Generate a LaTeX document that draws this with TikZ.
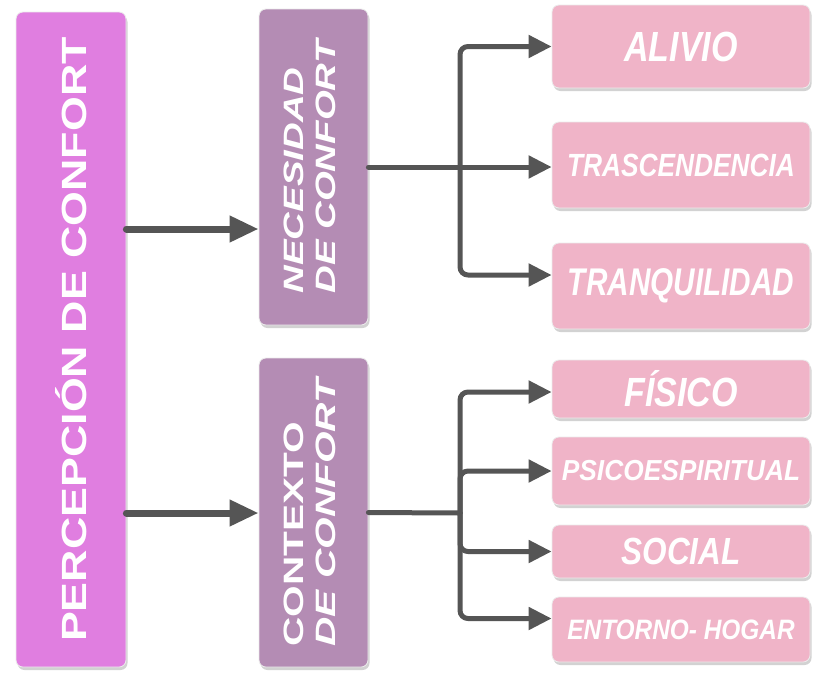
\documentclass[tikz,border=0pt]{standalone}
\usepackage{fontspec}
\setmainfont{Liberation Sans}
\usetikzlibrary{arrows.meta,shadows}

\definecolor{percepcol}{RGB}{224,126,224}
\definecolor{mauvecol}{RGB}{180,140,180}
\definecolor{pinkcol}{RGB}{240,180,200}
\definecolor{linecol}{RGB}{85,85,85}

\begin{document}
\begin{tikzpicture}[x=1pt, y=-1pt, line cap=round, line join=round,
  box/.style={rounded corners=7pt, draw=white!85!gray, line width=0.8pt,
    inner sep=0pt, text=white, font=\bfseries,
    drop shadow={shadow xshift=1.5pt, shadow yshift=-3pt, opacity=0.35}},
  mainbox/.style={box, fill=percepcol, minimum width=110pt, minimum height=655pt},
  midbox/.style={box, fill=mauvecol, minimum width=109pt},
  leafbox/.style={box, fill=pinkcol, minimum width=258pt},
  mainarrow/.style={draw=linecol, line width=7pt, -{Triangle[length=29pt,width=25pt]}},
  branch/.style={draw=linecol, line width=5pt, rounded corners=8pt},
  brancharrow/.style={branch, -{Triangle[length=23pt,width=22pt]}}]

% Frame
\useasboundingbox (0,0) rectangle (813,673);
\fill[white] (0,0) rectangle (813,673);

% Main box
\node[mainbox] (percep) at (71,339.5)
  {\fontsize{35}{40}\selectfont\rotatebox{90}{\scalebox{1.28}[1]{PERCEPCIÓN DE CONFORT}}};

% Middle boxes
\node[midbox, minimum height=316pt] (nec) at (313.5,167)
  {\fontsize{28}{32}\selectfont\rotatebox{90}{\scalebox{1.37}[1]{\itshape
   \begin{tabular}{@{}l@{}}NECESIDAD\\DE CONFORT\end{tabular}}}};
\node[midbox, minimum height=309pt] (ctx) at (313.5,512.5)
  {\fontsize{28}{32}\selectfont\rotatebox{90}{\scalebox{1.45}[1]{%
   \begin{tabular}{@{}l@{}}CONTEXTO\\\itshape DE CONFORT\end{tabular}}}};

% Leaf boxes, upper group
\node[leafbox, minimum height=83pt] (alivio) at (681,46.5)
  {\fontsize{34}{40}\selectfont\scalebox{1}[1.24]{\itshape ALIVIO}};
\node[leafbox, minimum height=86pt] (trans) at (681,165)
  {\fontsize{26.3}{30}\selectfont\scalebox{1}[1.22]{\itshape TRASCENDENCIA}};
\node[leafbox, minimum height=86pt] (tranq) at (681,286)
  {\fontsize{29.7}{34}\selectfont\scalebox{1}[1.3]{\itshape TRANQUILIDAD}};

% Leaf boxes, lower group
\node[leafbox, minimum height=58pt] (fisico) at (681,389)
  {\fontsize{34}{40}\selectfont\scalebox{1}[1.2]{\itshape FÍSICO}};
\node[leafbox, minimum height=68pt] (psico) at (681,471)
  {\fontsize{26.3}{30}\selectfont\scalebox{1}[1.1]{\itshape PSICOESPIRITUAL}};
\node[leafbox, minimum height=53pt] (social) at (681,551.5)
  {\fontsize{31.5}{36}\selectfont\scalebox{1}[1.2]{\itshape SOCIAL}};
\node[leafbox, minimum height=65pt] (entorno) at (681,629.5)
  {\fontsize{24.4}{28}\selectfont\scalebox{1}[1.15]{\itshape ENTORNO- HOGAR}};

% Arrows from the main box
\coordinate (ya) at (0,229);
\coordinate (yb) at (0,513);
\draw[mainarrow] (percep.east |- ya) -- (nec.west |- ya);
\draw[mainarrow] (percep.east |- yb) -- (ctx.west |- yb);

% Branches of the first middle box
\coordinate (jn) at (460,167);
\draw[branch] (nec.east) -- (jn);
\draw[brancharrow] (jn) |- (alivio.west);
\draw[brancharrow] (jn) -- (trans.west |- jn);
\draw[brancharrow] (jn) |- ([yshift=11pt]tranq.west);

% Branches of the second middle box
\coordinate (jc) at (460,513);
\draw[branch] (ctx.east) -- (jc);
\draw[brancharrow] (jc) |- ([yshift=-3pt]fisico.west);
\draw[brancharrow] (jc) |- (psico.west);
\draw[brancharrow] (jc) |- (social.west);
\draw[brancharrow] (jc) |- ([yshift=11pt]entorno.west);

\end{tikzpicture}
\end{document}
